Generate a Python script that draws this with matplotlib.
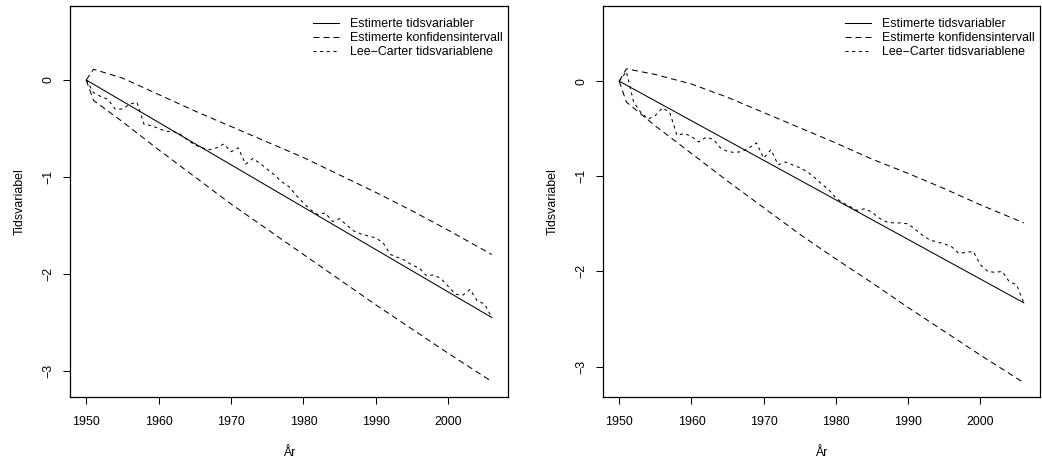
"""
Lee-Carter tidsvariabler med estimerte konfidensintervall, to paneler.
"""
import numpy as np
import matplotlib
matplotlib.use("Agg")
import matplotlib.pyplot as plt

plt.rcParams["font.family"] = ["Liberation Sans", "DejaVu Sans"]
plt.rcParams["font.size"] = 8.9
plt.rcParams["lines.scale_dashes"] = False

years = np.arange(1950, 2007)
ci_years = [1950, 1951, 1955, 1960, 1965, 1970, 1975, 1980, 1985, 1990, 1995, 2000, 2006]
est_years = [1950, 2006]

# venstre panel
est_left = [0.0, -2.45]
upper_left = [0.0, 0.11, 0.02, -0.15, -0.32, -0.48, -0.64, -0.80, -0.98, -1.16, -1.35, -1.55, -1.80]
lower_left = [0.0, -0.21, -0.43, -0.72, -1.00, -1.28, -1.54, -1.80, -2.06, -2.32, -2.57, -2.82, -3.11]
lc_left = [0.00, -0.13, -0.17, -0.20, -0.30, -0.30, -0.25, -0.23, -0.46, -0.47,
           -0.50, -0.53, -0.53, -0.56, -0.62, -0.67, -0.70, -0.72, -0.70, -0.66,
           -0.74, -0.70, -0.87, -0.81, -0.86, -0.92, -0.98, -1.05, -1.10, -1.19,
           -1.27, -1.34, -1.39, -1.37, -1.46, -1.43, -1.50, -1.56, -1.59, -1.61,
           -1.63, -1.68, -1.80, -1.83, -1.86, -1.91, -1.94, -2.02, -2.01, -2.05,
           -2.13, -2.21, -2.22, -2.16, -2.28, -2.31, -2.45]

# høyre panel
est_right = [0.0, -2.33]
upper_right = [0.0, 0.13, 0.07, -0.03, -0.17, -0.33, -0.49, -0.65, -0.82, -0.97, -1.13, -1.30, -1.49]
lower_right = [0.0, -0.22, -0.47, -0.76, -1.05, -1.33, -1.61, -1.87, -2.12, -2.38, -2.63, -2.88, -3.17]
lc_right = [0.00, 0.10, -0.22, -0.33, -0.40, -0.36, -0.28, -0.33, -0.57, -0.55,
            -0.58, -0.64, -0.59, -0.61, -0.70, -0.74, -0.75, -0.74, -0.70, -0.65,
            -0.81, -0.72, -0.88, -0.85, -0.88, -0.91, -0.95, -1.01, -1.08, -1.14,
            -1.23, -1.28, -1.32, -1.36, -1.34, -1.38, -1.44, -1.48, -1.49, -1.49,
            -1.50, -1.56, -1.62, -1.67, -1.69, -1.71, -1.74, -1.81, -1.80, -1.79,
            -1.93, -2.00, -2.01, -2.00, -2.11, -2.14, -2.33]

xticks = [1950, 1960, 1970, 1980, 1990, 2000]
yticks = [0, -1, -2, -3]
labels = ["Estimerte tidsvariabler", "Estimerte konfidensintervall", "Lee\u2212Carter tidsvariablene"]

CI_DASH = (4.3, 2.9)
LC_DASH = (2.2, 2.6)
LW = 0.75

fig = plt.figure(figsize=(10.42, 4.62), dpi=100)
ax1 = fig.add_axes([70 / 1042, 65 / 462, 438 / 1042, 391 / 462])
ax2 = fig.add_axes([603 / 1042, 65 / 462, 437 / 1042, 391 / 462])

panels = [
    (ax1, est_left, upper_left, lower_left, lc_left, (-3.27, 0.763)),
    (ax2, est_right, upper_right, lower_right, lc_right, (-3.32, 0.79)),
]

for ax, est, up, lo, lc, ylim in panels:
    ax.plot(est_years, est, color="black", lw=LW, label=labels[0])
    ax.plot(ci_years, up, color="black", lw=LW, dashes=CI_DASH, label=labels[1])
    ax.plot(ci_years, lo, color="black", lw=LW, dashes=CI_DASH)
    ax.plot(years, lc, color="black", lw=LW, dashes=LC_DASH, label=labels[2])

    ax.set_xlim(1947.76, 2008.24)
    ax.set_ylim(*ylim)
    ax.set_xticks(xticks)
    ax.set_yticks(yticks)
    ax.set_yticklabels([str(t).replace("-", "\u2212") for t in yticks],
                       rotation=90, va="center")
    ax.tick_params(direction="out", length=5, width=0.75, colors="black")
    ax.tick_params(axis="x", pad=9)
    ax.tick_params(axis="y", pad=6)
    for sp in ax.spines.values():
        sp.set_linewidth(0.9)
    ax.set_xlabel("År", labelpad=13)
    ax.set_ylabel("Tidsvariabel", labelpad=12)
    ax.legend(loc="upper right", bbox_to_anchor=(1.0, 0.982), frameon=False,
              handlelength=2.1, handletextpad=0.9, labelspacing=0.17,
              borderpad=0.4, borderaxespad=0.0)

fig.savefig("out.png", dpi=100)
